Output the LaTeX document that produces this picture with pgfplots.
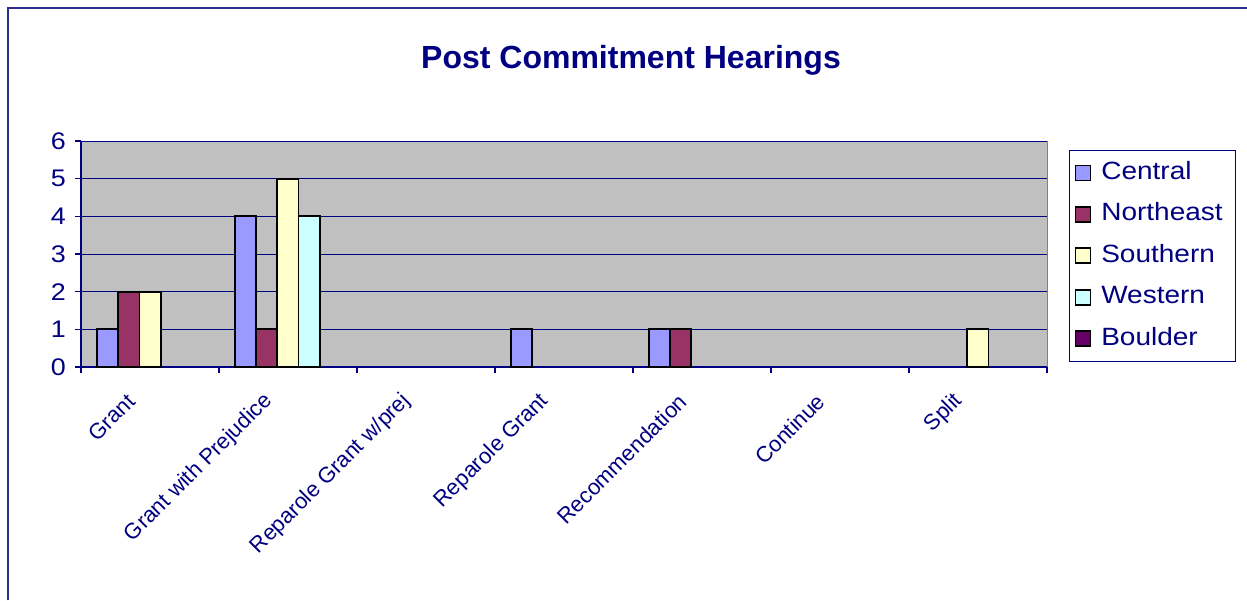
\documentclass[border=0pt]{standalone}
\usepackage{pgfplots}
\pgfplotsset{compat=1.18}
\usepackage{fontspec}
\setmainfont{Liberation Sans}
\newfontfamily\lblfont{Liberation Sans}[FakeStretch=1.12]
\definecolor{navy}{HTML}{000080}
\definecolor{frameblue}{HTML}{2B2E8C}
\definecolor{cCentral}{HTML}{9999FF}
\definecolor{cNortheast}{HTML}{993366}
\definecolor{cSouthern}{HTML}{FFFFCC}
\definecolor{cWestern}{HTML}{CCFFFF}
\definecolor{cBoulder}{HTML}{660066}
\definecolor{plotgray}{HTML}{C0C0C0}
\begin{document}
\begin{tikzpicture}
\useasboundingbox (0,0) rectangle (623.5pt,300pt);
\draw[frameblue, line width=1.1pt] (4pt,0) -- (4pt,296pt) -- (623.5pt,296pt);
\begin{axis}[
  at={(40.5pt,116.5pt)}, anchor=south west,
  scale only axis, width=483pt, height=113pt,
  xmin=-0.5, xmax=6.5, ymin=0, ymax=6,
  axis background/.style={fill=plotgray, draw=gray},
  axis x line=bottom, axis y line=left,
  axis line style={navy, line width=0.6pt, -},
  ytick={0,...,6},
  xtick={0,...,6},
  xticklabels={Grant, Grant with Prejudice, Reparole Grant w/prej, Reparole Grant, Recommendation, Continue, Split},
  minor xtick={-0.5,0.5,...,6.5},
  major x tick style={draw=none},
  minor x tick style={navy, line width=0.6pt},
  minor tick length=3pt,
  y tick style={navy, line width=0.6pt},
  major tick length=3pt,
  tick align=outside,
  ymajorgrids,
  grid style={navy, line width=0.5pt},
  /pgf/number format/assume math mode=true,
  yticklabel style={font=\lblfont\fontsize{12}{14}\selectfont, text=navy, xshift=-1pt},
  xticklabel style={font=\fontsize{11}{13}\selectfont, text=navy, xshift=-7pt, yshift=-10pt, rotate=45, anchor=east},
  title={Post Commitment Hearings},
  title style={font=\bfseries\fontsize{16}{18}\selectfont, text=navy, at={(0.5694,1.3053)}, anchor=center},
  ybar, bar width=10.6pt,
  every axis plot/.append style={draw=black, line width=0.9pt},
  legend style={at={(1.0228,0.960)}, anchor=north west, draw=navy, line width=0.5pt,
    font=\lblfont\fontsize{12.5}{14}\selectfont, text=navy,
    inner xsep=2.5pt, inner ysep=3.5pt, row sep=5.2pt,
    /tikz/every odd column/.append style={column sep=3.5pt},
    nodes={text height=9pt, text depth=2.5pt, inner ysep=2pt, inner xsep=1.5pt, text width=63pt, align=left}},
  legend cell align=left,
  legend image code/.code={\draw[#1, line width=0.9pt] (0pt,-3.75pt) rectangle (7.5pt,3.75pt);},
]
\addplot[fill=cCentral, bar shift=-21.2pt] coordinates {(0,1) (1,4) (3,1) (4,1)};
\addlegendentry{Central}
\addplot[fill=cNortheast, bar shift=-10.6pt] coordinates {(0,2) (1,1) (4,1)};
\addlegendentry{Northeast}
\addplot[fill=cSouthern, bar shift=0pt] coordinates {(0,2) (1,5) (6,1)};
\addlegendentry{Southern}
\addplot[fill=cWestern, bar shift=10.6pt] coordinates {(1,4)};
\addlegendentry{Western}
\addlegendimage{fill=cBoulder, draw=black}
\addlegendentry{Boulder}
\end{axis}
\end{tikzpicture}
\end{document}
